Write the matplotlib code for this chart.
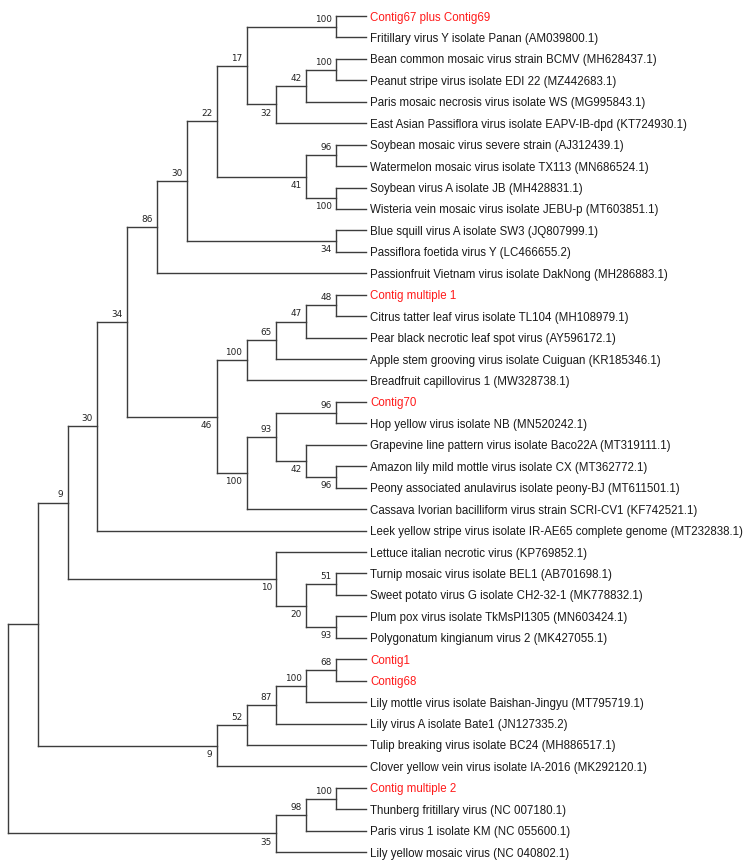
import matplotlib
matplotlib.use("Agg")
import matplotlib.pyplot as plt

# ---------------- data ----------------
leaves = [
    "Contig67 plus Contig69",
    "Fritillary virus Y isolate Panan (AM039800.1)",
    "Bean common mosaic virus strain BCMV (MH628437.1)",
    "Peanut stripe virus isolate EDI 22 (MZ442683.1)",
    "Paris mosaic necrosis virus isolate WS (MG995843.1)",
    "East Asian Passiflora virus isolate EAPV-IB-dpd (KT724930.1)",
    "Soybean mosaic virus severe strain (AJ312439.1)",
    "Watermelon mosaic virus isolate TX113 (MN686524.1)",
    "Soybean virus A isolate JB (MH428831.1)",
    "Wisteria vein mosaic virus isolate JEBU-p (MT603851.1)",
    "Blue squill virus A isolate SW3 (JQ807999.1)",
    "Passiflora foetida virus Y (LC466655.2)",
    "Passionfruit Vietnam virus isolate DakNong (MH286883.1)",
    "Contig multiple 1",
    "Citrus tatter leaf virus isolate TL104 (MH108979.1)",
    "Pear black necrotic leaf spot virus (AY596172.1)",
    "Apple stem grooving virus isolate Cuiguan (KR185346.1)",
    "Breadfruit capillovirus 1 (MW328738.1)",
    "Contig70",
    "Hop yellow virus isolate NB (MN520242.1)",
    "Grapevine line pattern virus isolate Baco22A (MT319111.1)",
    "Amazon lily mild mottle virus isolate CX (MT362772.1)",
    "Peony associated anulavirus isolate peony-BJ (MT611501.1)",
    "Cassava Ivorian bacilliform virus strain SCRI-CV1 (KF742521.1)",
    "Leek yellow stripe virus isolate IR-AE65 complete genome (MT232838.1)",
    "Lettuce italian necrotic virus (KP769852.1)",
    "Turnip mosaic virus isolate BEL1 (AB701698.1)",
    "Sweet potato virus G isolate CH2-32-1 (MK778832.1)",
    "Plum pox virus isolate TkMsPI1305 (MN603424.1)",
    "Polygonatum kingianum virus 2 (MK427055.1)",
    "Contig1",
    "Contig68",
    "Lily mottle virus isolate Baishan-Jingyu (MT795719.1)",
    "Lily virus A isolate Bate1 (JN127335.2)",
    "Tulip breaking virus isolate BC24 (MH886517.1)",
    "Clover yellow vein virus isolate IA-2016 (MK292120.1)",
    "Contig multiple 2",
    "Thunberg fritillary virus (NC 007180.1)",
    "Paris virus 1 isolate KM (NC 055600.1)",
    "Lily yellow mosaic virus (NC 040802.1)",
]
highlight = ["Contig67 plus Contig69", "Contig multiple 1", "Contig70",
             "Contig1", "Contig68", "Contig multiple 2"]


def N(support, *children):
    return (support, children)


# topology (leaf indices) with bootstrap supports
tree = N(None,
         N(None,
           N(9,
             N(30,
               N(34,
                 N(86,
                   N(30,
                     N(22,
                       N(17, N(100, 0, 1), N(32, N(42, N(100, 2, 3), 4), 5)),
                       N(41, N(96, 6, 7), N(100, 8, 9))),
                     N(34, 10, 11)),
                   12),
                 N(46,
                   N(100, N(65, N(47, N(48, 13, 14), 15), 16), 17),
                   N(100, N(93, N(96, 18, 19), N(42, 20, N(96, 21, 22))), 23))),
               24),
             N(10, 25, N(20, N(51, 26, 27), N(93, 28, 29)))),
           N(9, N(52, N(87, N(100, N(68, 30, 31), 32), 33), 34), 35)),
         N(35, N(98, N(100, 36, 37), 38), 39))

# ---------------- layout ----------------
def height(node):
    if isinstance(node, int):
        return 0
    return 1 + max(height(c) for c in node[1])

HMAX = height(tree)

segments = []   # (x0, y0, x1, y1)
labels = []     # (x, y, text, above)


def layout(node):
    if isinstance(node, int):
        return HMAX, node
    sup, children = node
    x = HMAX - height(node)
    pos = [layout(c) for c in children]
    y = (pos[0][1] + pos[-1][1]) / 2.0
    segments.append((x, pos[0][1], x, pos[-1][1]))
    for k, (c, (cx, cy)) in enumerate(zip(children, pos)):
        segments.append((x, cy, cx, cy))
        if not isinstance(c, int) and c[0] is not None:
            labels.append((cx, cy, str(c[0]), k == 0))
    return x, y


layout(tree)

# ---------------- draw ----------------
W, H, DPI = 753, 868, 100
fig = plt.figure(figsize=(W / DPI, H / DPI), dpi=DPI)
ax = fig.add_axes([0, 0, 1, 1])
ax.set_axis_off()

px_x = 29.83   # pixels per depth level
px_y = 21.44   # pixels per leaf
x0_px, y0_px = 8.0, 16.0
ax.set_xlim(-x0_px / px_x, (W - x0_px) / px_x)
ax.set_ylim((H - y0_px) / px_y, -y0_px / px_y)

line_color = "#3c3c3c"
for (xa, ya, xb, yb) in segments:
    ax.plot([xa, xb], [ya, yb], color=line_color, lw=1.0,
            solid_capstyle="projecting")

for (x, y, t, above) in labels:
    ax.annotate(t, (x, y), xytext=(-3.3, 2.2 if above else -3.0),
                textcoords="offset points", ha="right",
                va="bottom" if above else "top",
                fontsize=6.4, family="DejaVu Sans", color="#222222")

for i, name in enumerate(leaves):
    ax.annotate(name, (HMAX, i), xytext=(3.0, 0), textcoords="offset points",
                ha="left", va="center_baseline", fontsize=8.3,
                family="Liberation Sans",
                color="#ff1a1a" if name in highlight else "#1a1a1a")

fig.savefig("out.png", dpi=DPI, facecolor="white")
